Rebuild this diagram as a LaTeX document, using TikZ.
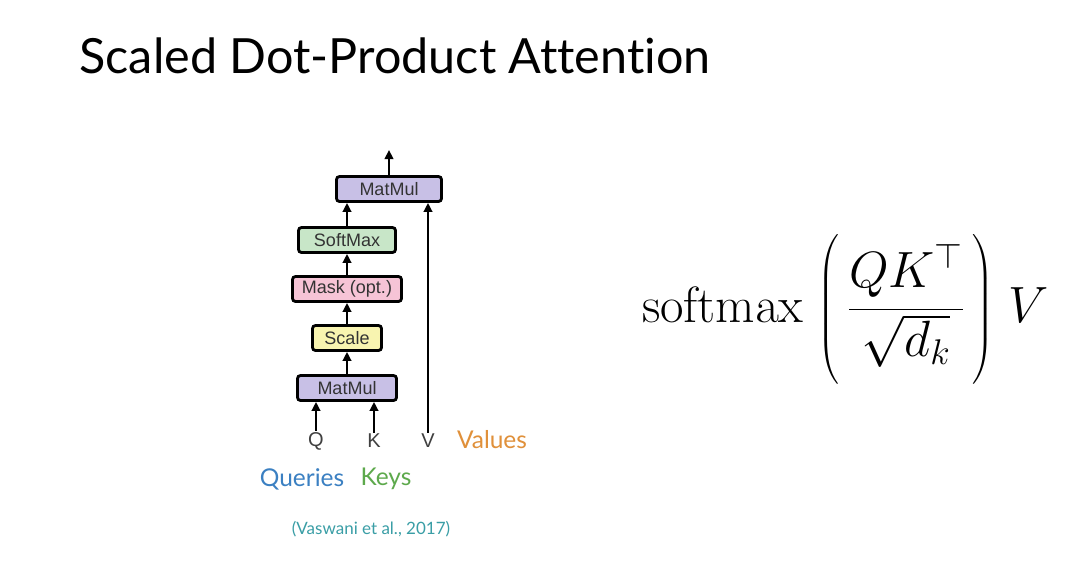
\RequirePackage{fix-cm}
\documentclass[tikz,border=0pt]{standalone}
\usepackage{amsmath}
\usepackage[no-math]{fontspec}
\setmainfont[Ligatures=NoCommon]{Lato}
\newfontfamily\boxfont{Liberation Sans}
\usetikzlibrary{arrows.meta}

\definecolor{matmulcol}{HTML}{C8C0E6}
\definecolor{softcol}{HTML}{C8E6C8}
\definecolor{maskcol}{HTML}{F6C4D6}
\definecolor{scalecol}{HTML}{F8F4B0}
\definecolor{valcol}{HTML}{E0903A}
\definecolor{qcol}{HTML}{3B80C2}
\definecolor{kcol}{HTML}{5DA94C}
\definecolor{citecol}{HTML}{3A9EA6}

\begin{document}
\begin{tikzpicture}[x=1pt, y=-1pt,
  blk/.style={draw, line width=2.8pt, rounded corners=3pt, minimum height=25pt, inner sep=0pt,
    font=\boxfont\fontsize{18}{18}\selectfont, text=black!80},
  lbl/.style={font=\boxfont\fontsize{20}{20}\selectfont, text=black!75, inner sep=1pt},
  word/.style={font=\fontsize{24.5}{24.5}\selectfont, inner sep=0pt},
  arr/.style={line width=2.4pt, -{Triangle[length=9pt,width=8.5pt]}}]
\useasboundingbox[fill=white] (0,0) rectangle (1091,587);

\node[anchor=base west, font=\fontsize{48.5}{48.5}\selectfont] (title) at (76,73) {Scaled Dot-Product Attention};

% the block stack
\node[blk, fill=matmulcol, minimum width=105pt] (mm2) at (389,189) {MatMul};
\node[blk, fill=softcol, minimum width=97pt] (soft) at (347,240) {SoftMax};
\node[blk, fill=maskcol, minimum width=109pt] (mask) at (347,289) {Mask (opt.)};
\node[blk, fill=scalecol, minimum width=69pt] (scale) at (347,338) {Scale};
\node[blk, fill=matmulcol, minimum width=99pt] (mm1) at (347,388) {MatMul};

\node[lbl] (q) at (316,441) {Q};
\node[lbl] (k) at (374,441) {K};
\node[lbl] (v) at (428,441) {V};
\coordinate (out) at (389,150);

\draw[arr] (q) -- (q |- mm1.south);
\draw[arr] (k) -- (k |- mm1.south);
\draw[arr] (mm1) -- (scale);
\draw[arr] (scale) -- (mask);
\draw[arr] (mask) -- (soft);
\draw[arr] (soft.north) -- (soft.north |- mm2.south);
\draw[arr] (v) -- (v |- mm2.south);
\draw[arr] (mm2) -- (out);

\node[word, text=valcol] (values) at (492,440) {Values};
\node[word, text=qcol] (queries) at (302,479) {Queries};
\node[word, text=kcol] (keys) at (386,479) {Keys};
\node[font=\fontsize{17}{17}\selectfont, text=citecol] (cite) at (371,529) {(Vaswani et al., 2017)};

\node[anchor=base west, inner sep=0pt, font=\fontsize{51}{55}\selectfont] (eq) at (642,322)
  {$\displaystyle \mathrm{softmax}\;\Biggl(\,\frac{QK^{\top}}{\sqrt{d_k}}\,\Biggr)\;V$};
\end{tikzpicture}
\end{document}
